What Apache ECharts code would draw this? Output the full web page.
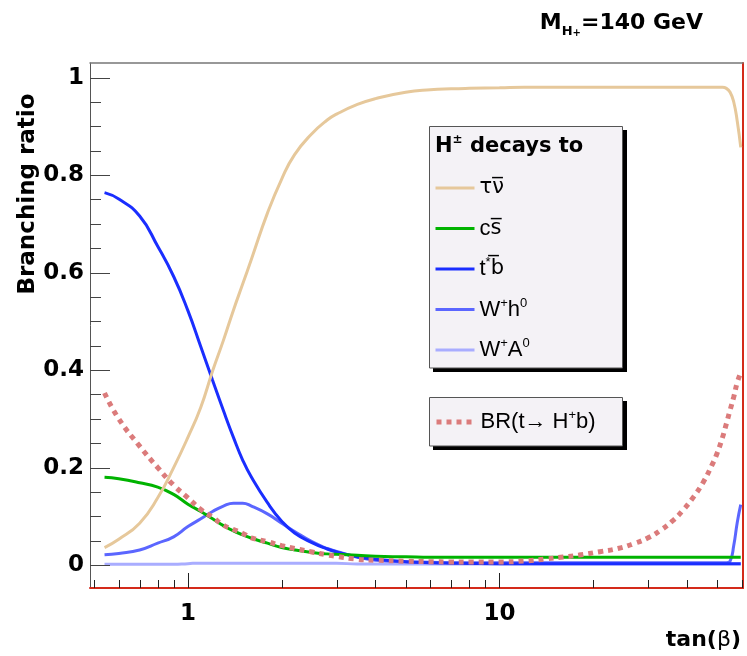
<!DOCTYPE html>
<html><head><meta charset="utf-8">
<script src="https://cdn.jsdelivr.net/npm/echarts@6/dist/echarts.min.js"></script>
<style>html,body{margin:0;padding:0;background:#fff}#c{width:747px;height:656px}</style>
</head><body><div id="c"></div>
<script>
// ---- data ----
const tanBeta = [0.54,0.6,0.7,0.8,0.9,1.0,1.1,1.2,1.3,1.4,1.5,1.6,1.8,2.0,2.2,2.5,2.8,3.0,3.5,4,5,6,7,8,10,12,14,16,18,21,24,27,30,33,36,39,42,45,48,50,52,53.5,55,56.5,58,59.5];
const brTauNu = [0.036,0.053,0.086,0.138,0.200,0.262,0.324,0.398,0.461,0.523,0.577,0.628,0.722,0.792,0.842,0.885,0.913,0.925,0.945,0.957,0.970,0.975,0.977,0.978,0.979,0.980,0.980,0.980,0.980,0.980,0.980,0.980,0.980,0.980,0.980,0.980,0.980,0.980,0.980,0.980,0.980,0.978,0.970,0.950,0.910,0.857];
const brCS = [0.180,0.177,0.169,0.160,0.145,0.125,0.110,0.095,0.081,0.070,0.062,0.055,0.045,0.036,0.031,0.026,0.023,0.022,0.020,0.018,0.017,0.016,0.016,0.016,0.016,0.016,0.016,0.016,0.016,0.016,0.016,0.016,0.016,0.016,0.016,0.016,0.016,0.016,0.016,0.016,0.016,0.016,0.016,0.016,0.016,0.016];
const brTB = [0.764,0.751,0.716,0.654,0.592,0.522,0.448,0.379,0.317,0.262,0.215,0.180,0.128,0.090,0.066,0.046,0.033,0.027,0.017,0.012,0.007,0.005,0.004,0.0035,0.003,0.003,0.003,0.003,0.003,0.003,0.003,0.003,0.003,0.003,0.003,0.003,0.003,0.003,0.003,0.003,0.003,0.003,0.003,0.003,0.003,0.003];
const brWh = [0.021,0.024,0.031,0.045,0.058,0.079,0.095,0.110,0.121,0.127,0.127,0.121,0.105,0.086,0.069,0.048,0.034,0.028,0.016,0.010,0.007,0.006,0.005,0.005,0.005,0.005,0.005,0.005,0.005,0.005,0.005,0.005,0.005,0.005,0.005,0.005,0.005,0.005,0.005,0.005,0.005,0.005,0.008,0.040,0.088,0.124];
const brWA = [0.0015,0.0015,0.0015,0.0015,0.0015,0.003,0.004,0.004,0.004,0.004,0.004,0.004,0.004,0.004,0.004,0.004,0.004,0.004,0.002,0.002,0.002,0.002,0.002,0.002,0.002,0.002,0.002,0.002,0.002,0.002,0.002,0.002,0.002,0.002,0.002,0.002,0.002,0.002,0.002,0.002,0.002,0.002,0.002,0.002,0.002,0.002];
const brTopToHb = [0.353,0.300,0.244,0.200,0.164,0.138,0.114,0.098,0.082,0.073,0.065,0.056,0.048,0.040,0.034,0.027,0.021,0.018,0.012,0.010,0.008,0.007,0.0065,0.0065,0.0065,0.0085,0.0125,0.0165,0.0205,0.0275,0.034,0.044,0.056,0.072,0.091,0.114,0.140,0.169,0.204,0.230,0.262,0.290,0.318,0.345,0.375,0.395];

const xMajorTicks = [1, 10];
const xTickLabels = ['1', '10'];
const xMinorTicks = [0.5,0.6,0.7,0.8,0.9,2,3,4,5,6,7,8,9,20,30,40,50,60];
const yMajorTicks = [0, 0.2, 0.4, 0.6, 0.8, 1];
const yTickLabels = ['0', '0.2', '0.4', '0.6', '0.8', '1'];
const yMinorTicks = [0.05,0.1,0.15,0.25,0.3,0.35,0.45,0.5,0.55,0.65,0.7,0.75,0.85,0.9,0.95];

const legendLabels = {
  tauNu: '{d|τν\u0305}',
  cs: '{n|c}{d|s\u0305}',
  tb: '{n|t}{sup|*}{d|b\u0305}',
  Wh: '{n|W}{sup|+}{n|h}{sup|0}',
  WA: '{n|W}{sup|+}{n|A}{sup|0}',
  BR: '{n|BR(t→ H}{sup|+}{n|b)}'
};

// ---- layout / style ----
const X_MIN = 0.485, X_MAX = 60.5, Y_MIN = -0.047, Y_MAX = 1.03;
const BF = 'DejaVu Sans';
const RED = '#d42a1a';

function pairs(ys) { return tanBeta.map((x, i) => [x, ys[i]]); }
function lineSeries(name, ys, color, width, dash, z) {
  return {
    name, type: 'line', data: pairs(ys), symbol: 'none', smooth: 0.5,
    lineStyle: { color, width, type: dash || 'solid', cap: 'butt' },
    itemStyle: { color }, z: z, silent: true
  };
}
function tickSeries(values, isX, len, color) {
  return {
    type: 'custom', silent: true, z: 6, clip: false,
    data: values.map(v => isX ? [v, Y_MIN] : [X_MIN, v]),
    renderItem: (params, api) => {
      const p = api.coord([api.value(0), api.value(1)]);
      const shape = isX
        ? { x1: Math.round(p[0]) + 0.5, y1: p[1], x2: Math.round(p[0]) + 0.5, y2: p[1] - len }
        : { x1: p[0], y1: Math.round(p[1]) + 0.5, x2: p[0] + len, y2: Math.round(p[1]) + 0.5 };
      return { type: 'line', shape, style: { stroke: color, lineWidth: 1 } };
    }
  };
}
const legendRich = {
  n: { fontFamily: 'Liberation Sans', fontSize: 22, lineHeight: 26, color: '#000' },
  d: { fontFamily: 'DejaVu Sans', fontSize: 21, lineHeight: 26, color: '#000' },
  sup: { fontFamily: 'Liberation Sans', fontSize: 13, lineHeight: 14, verticalAlign: 'top', color: '#000' }
};
const legendCommon = {
  orient: 'vertical', left: 434, itemWidth: 39, itemHeight: 14, padding: 0,
  selectedMode: false, z: 10,
  itemStyle: { color: 'rgba(0,0,0,0)', opacity: 0, borderWidth: 0 },
  formatter: n => legendLabels[n],
  textStyle: { fontFamily: 'Liberation Sans', fontSize: 22, color: '#000', lineHeight: 26, rich: legendRich }
};

const chart = echarts.init(document.getElementById('c'), null, { renderer: 'canvas' });
chart.setOption({
  animation: false,
  backgroundColor: '#ffffff',
  grid: { left: 90, right: 4, top: 63, bottom: 68 },
  title: [
    {
      text: '{b|M}{sub|H}{subsup|+}{b|=140 GeV}', right: 44, top: 8, padding: 0,
      textStyle: { rich: {
        b: { fontFamily: BF, fontWeight: 'bold', fontSize: 22, lineHeight: 30, color: '#000' },
        sub: { fontFamily: BF, fontWeight: 'bold', fontSize: 13, lineHeight: 16, verticalAlign: 'bottom', color: '#000' },
        subsup: { fontFamily: BF, fontWeight: 'bold', fontSize: 10, lineHeight: 25, verticalAlign: 'bottom', color: '#000' }
      } }
    },
    {
      text: '{b|tan(}{g|β}{b|)}', right: 6, top: 627, padding: 0,
      textStyle: { rich: {
        b: { fontFamily: BF, fontWeight: 'bold', fontSize: 22, lineHeight: 26, color: '#000' },
        g: { fontFamily: BF, fontWeight: 'normal', fontSize: 22, lineHeight: 26, color: '#000' }
      } }
    }
  ],
  xAxis: [
    {
      type: 'log', logBase: 10, min: X_MIN, max: X_MAX,
      axisLine: { show: true, onZero: false, lineStyle: { color: RED, width: 2 } },
      axisTick: { show: false }, splitLine: { show: false },
      axisLabel: {
        margin: 15, color: '#000', fontFamily: BF, fontWeight: 'bold', fontSize: 23,
        formatter: v => { const i = xMajorTicks.findIndex(t => Math.abs(v - t) < 1e-6 * t); return i >= 0 ? xTickLabels[i] : ''; }
      }
    },
    {
      type: 'log', logBase: 10, min: X_MIN, max: X_MAX, position: 'top',
      axisLine: { show: true, onZero: false, lineStyle: { color: '#777', width: 1.5 } },
      axisTick: { show: false }, axisLabel: { show: false }, splitLine: { show: false }
    }
  ],
  yAxis: [
    {
      type: 'value', min: Y_MIN, max: Y_MAX,
      axisLine: { show: true, onZero: false, lineStyle: { color: '#555', width: 1 } },
      axisTick: { show: false }, splitLine: { show: false },
      axisLabel: {
        margin: 6, color: '#000', fontFamily: BF, fontWeight: 'bold', fontSize: 23,
        formatter: v => { const i = yMajorTicks.findIndex(t => Math.abs(v - t) < 1e-9); return i >= 0 ? yTickLabels[i] : ''; }
      }
    },
    {
      type: 'value', min: Y_MIN, max: Y_MAX, position: 'right',
      axisLine: { show: true, onZero: false, lineStyle: { color: RED, width: 2 } },
      axisTick: { show: false }, axisLabel: { show: false }, splitLine: { show: false }
    }
  ],
  legend: [
    Object.assign({}, legendCommon, {
      data: ['tauNu', 'cs', 'tb', 'Wh', 'WA'], top: 175, itemGap: 14.5,
      lineStyle: { width: 3 }
    }),
    Object.assign({}, legendCommon, {
      data: ['BR'], top: 409, lineStyle: { width: 5 }
    })
  ],
  graphic: [
    { type: 'rect', z: 5, shape: { x: 433, y: 130, width: 194, height: 242 }, style: { fill: '#000' } },
    { type: 'rect', z: 6, shape: { x: 429.5, y: 126.5, width: 193, height: 241.5 }, style: { fill: '#f4f2f6', stroke: '#555', lineWidth: 1 } },
    { type: 'rect', z: 5, shape: { x: 433, y: 401, width: 194, height: 49 }, style: { fill: '#000' } },
    { type: 'rect', z: 6, shape: { x: 429.5, y: 397.5, width: 193, height: 48.5 }, style: { fill: '#f4f2f6', stroke: '#555', lineWidth: 1 } },
    {
      type: 'text', z: 11, x: 435, y: 147,
      style: {
        text: '{b|H}{s|±}{b| decays to}', align: 'left', verticalAlign: 'middle',
        rich: {
          b: { fontFamily: BF, fontWeight: 'bold', fontSize: 21, lineHeight: 26, fill: '#000', color: '#000' },
          s: { fontFamily: BF, fontWeight: 'bold', fontSize: 12, lineHeight: 14, verticalAlign: 'top', fill: '#000', color: '#000' }
        }
      }
    },
    {
      type: 'text', z: 11, x: 28, y: 194, rotation: Math.PI / 2,
      style: { text: 'Branching ratio', fontFamily: BF, fontWeight: 'bold', fontSize: 23, fill: '#000', align: 'center', verticalAlign: 'middle' }
    }
  ],
  series: [
    lineSeries('WA', brWA, '#a9adff', 3, null, 2),
    lineSeries('Wh', brWh, '#5b66ff', 3, null, 2),
    lineSeries('tb', brTB, '#1a2eff', 3, null, 2),
    lineSeries('cs', brCS, '#00b300', 3, null, 2),
    lineSeries('tauNu', brTauNu, '#e6c89b', 3, null, 2),
    lineSeries('BR', brTopToHb, '#db7b7b', 5, [5, 5], 3),
    tickSeries(xMajorTicks, true, 15, '#222'),
    tickSeries(xMinorTicks, true, 8, '#222'),
    tickSeries(yMajorTicks, false, 20, '#444'),
    tickSeries(yMinorTicks, false, 11, '#444')
  ]
});
</script></body></html>
